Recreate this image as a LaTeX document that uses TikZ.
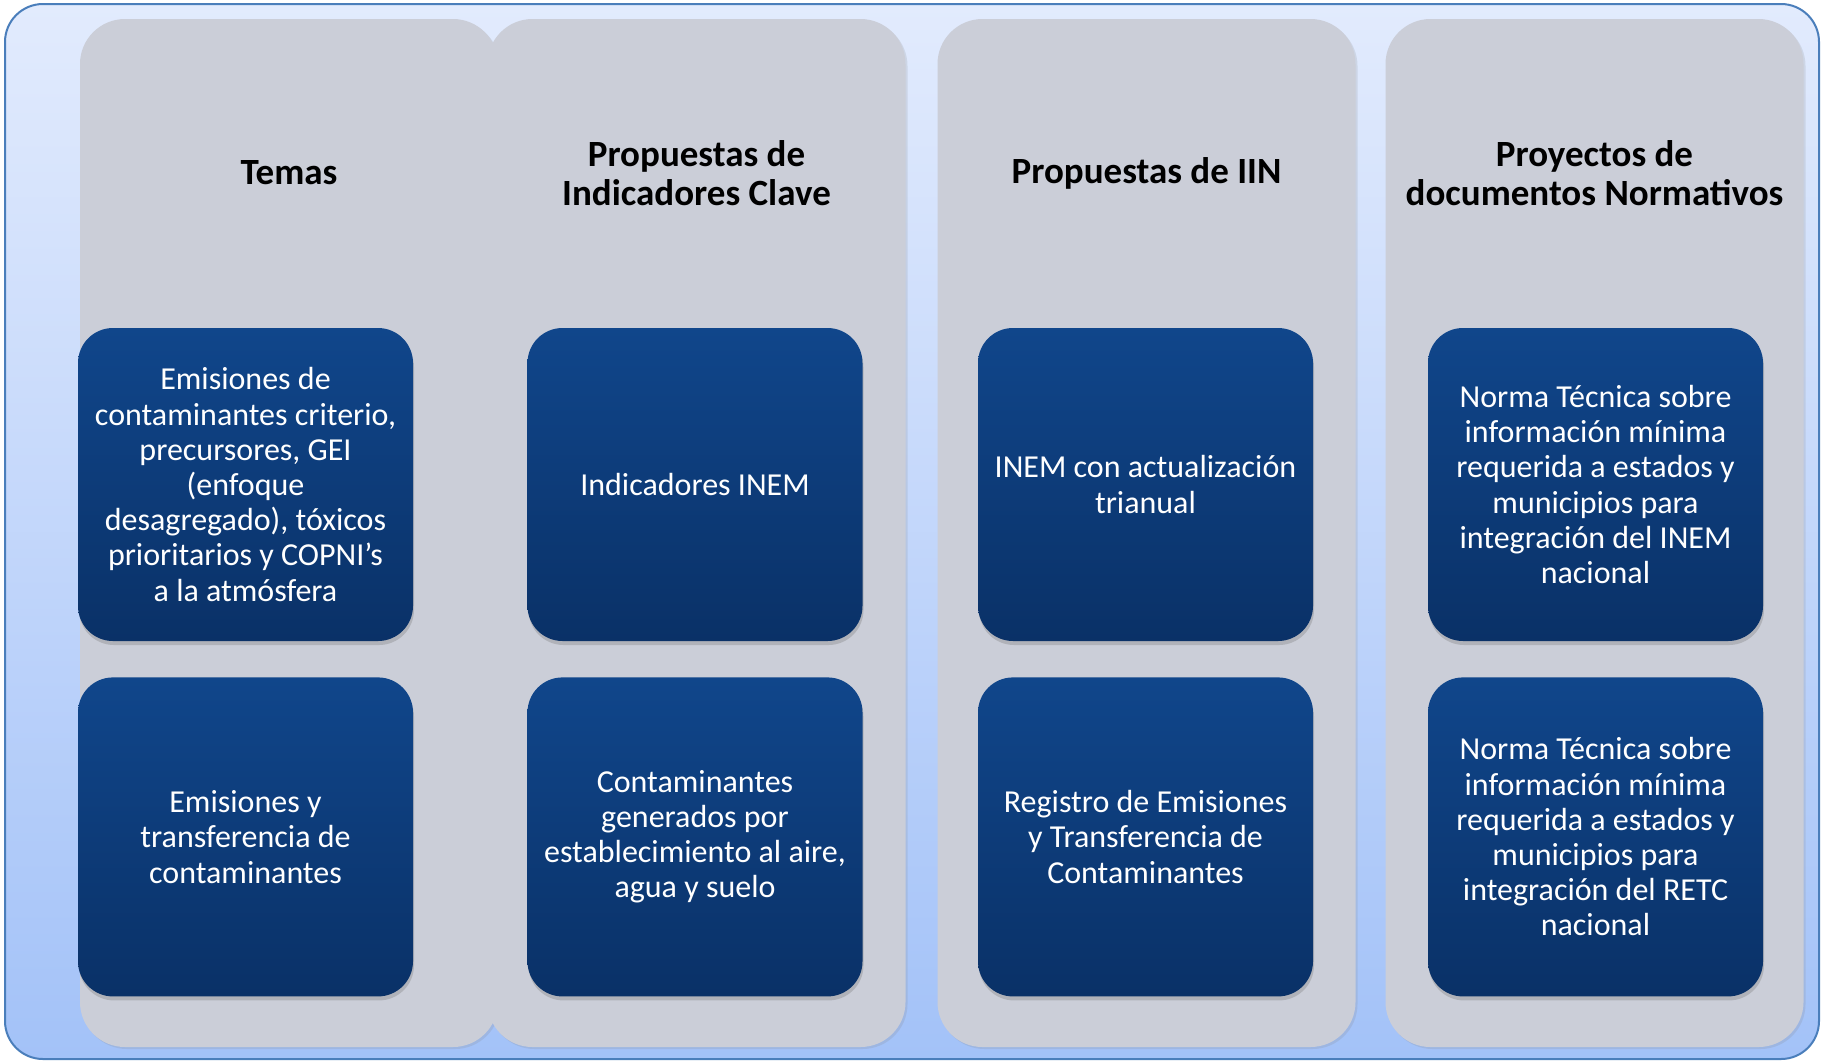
\documentclass[tikz,border=0pt]{standalone}
\usepackage{fontspec}
\setmainfont{Carlito}
\usetikzlibrary{shadows,positioning}
\definecolor{frameline}{RGB}{74,126,187}
\definecolor{frametop}{RGB}{226,235,253}
\definecolor{framebot}{RGB}{163,194,248}
\definecolor{colgray}{RGB}{203,206,216}
\definecolor{boxtop}{RGB}{16,70,139}
\definecolor{boxbot}{RGB}{10,49,103}

\begin{document}
\begin{tikzpicture}[
    x=1pt, y=-1pt,
    frame/.style={draw=frameline, line width=2pt, rounded corners=38pt,
                  top color=frametop, bottom color=framebot},
    column/.style={fill=colgray, rounded corners=45pt, inner sep=0pt,
                   minimum width=418pt, minimum height=1028pt,
                   drop shadow={opacity=0.18, shadow xshift=2pt, shadow yshift=-2pt}},
    head/.style={font=\fontsize{37}{39}\selectfont\bfseries, align=center},
    item/.style={rounded corners=35pt, top color=boxtop, bottom color=boxbot,
                 minimum width=335pt, minimum height=313pt, inner sep=0pt,
                 align=center, text=white, font=\fontsize{32}{35.2}\selectfont,
                 drop shadow={opacity=0.35, shadow xshift=1pt, shadow yshift=-4pt}},
  ]
  \useasboundingbox (0,0) rectangle (1825,1061);
  % Frame
  \path[frame] (5,4) rectangle (1819,1059);

  % Columns and headings
  \foreach \i/\cx/\head in {
    1/289/Temas,
    2/696.5/{Propuestas de\\Indicadores Clave},
    3/1146.5/Propuestas de IIN,
    4/1594.5/{Proyectos de\\documentos Normativos}%
  } {
    \node[column] (c\i) at (\cx,533) {};
    \node[head] (h\i) at (\cx,173) {\head};
  }

  % Items
  \node[item] (t1) at (245.5,484.5) {Emisiones de\\contaminantes criterio,\\precursores, GEI\\(enfoque\\desagregado), tóxicos\\prioritarios y COPNI’s\\a la atmósfera};
  \node[item, minimum height=319pt, below=36pt of t1] (b1) {Emisiones y\\transferencia de\\contaminantes};

  \node[item] (t2) at (695,484.5) {Indicadores INEM};
  \node[item, minimum height=319pt, below=36pt of t2] (b2) {Contaminantes\\generados por\\establecimiento al aire,\\agua y suelo};

  \node[item] (t3) at (1145.5,484.5) {INEM con actualización\\trianual};
  \node[item, minimum height=319pt, below=36pt of t3] (b3) {Registro de Emisiones\\y Transferencia de\\Contaminantes};

  \node[item] (t4) at (1595.5,484.5) {Norma Técnica sobre\\información mínima\\requerida a estados y\\municipios para\\integración del INEM\\nacional};
  \node[item, minimum height=319pt, below=36pt of t4] (b4) {Norma Técnica sobre\\información mínima\\requerida a estados y\\municipios para\\integración del RETC\\nacional};
\end{tikzpicture}
\end{document}
